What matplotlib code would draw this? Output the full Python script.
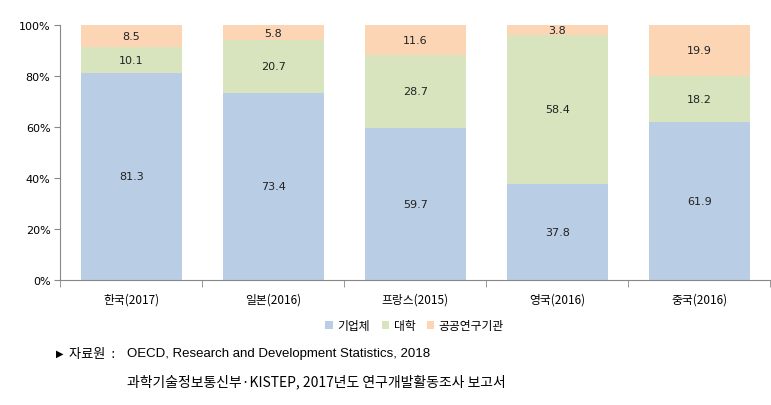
import matplotlib.pyplot as plt
import numpy as np

plt.rcParams['font.family'] = ['Noto Sans CJK KR', 'DejaVu Sans']

countries = ['한국(2017)', '일본(2016)', '프랑스(2015)', '영국(2016)', '중국(2016)']
business = [81.3, 73.4, 59.7, 37.8, 61.9]
university = [10.1, 20.7, 28.7, 58.4, 18.2]
public = [8.5, 5.8, 11.6, 3.8, 19.9]
series_names = ['기업체', '대학', '공공연구기관']
colors = ['#B9CDE5', '#D7E4BD', '#FCD5B5']

fig = plt.figure(figsize=(7.71, 4.06), dpi=100)
ax = fig.add_axes([0.078, 0.308, 0.921, 0.628])

x = np.arange(len(countries))
bottom = np.zeros(len(countries))
for vals, name, c in zip([business, university, public], series_names, colors):
    vals = np.array(vals)
    ax.bar(x, vals, width=0.71, bottom=bottom, color=c, label=name)
    for xi, b, v in zip(x, bottom, vals):
        ax.text(xi, b + v / 2, f'{v:.1f}', ha='center', va='center', fontsize=8,
                family='DejaVu Sans', color='#222222')
    bottom += vals

ax.set_xlim(-0.5, 4.5)
ax.set_ylim(0, 100)
ax.set_yticks(np.arange(0, 101, 20))
ax.set_yticklabels([f'{v}%' for v in range(0, 101, 20)], fontsize=8, family='DejaVu Sans')
ax.set_xticks(x)
ax.set_xticklabels(countries, fontsize=8.5)
ax.set_xticks(np.arange(-0.5, 5.0, 1.0), minor=True)
ax.tick_params(axis='x', which='major', length=0, pad=9)
ax.tick_params(axis='x', which='minor', length=5, color='#888888')
ax.tick_params(axis='y', length=4, color='#888888', pad=3)

for s in ['top', 'right']:
    ax.spines[s].set_visible(False)
ax.spines['left'].set_color('#888888')
ax.spines['bottom'].set_color('#888888')

fig.legend(loc='center', bbox_to_anchor=(0.538, 0.195), ncol=3, frameon=False,
           fontsize=8.5, handlelength=0.6, handleheight=0.6, handletextpad=0.4,
           columnspacing=1.0)

fig.text(0.072, 0.128, '▶', fontsize=7, va='center', family='DejaVu Sans')
fig.text(0.090, 0.128, '자료원  :', fontsize=9.5, va='center')
fig.text(0.165, 0.128, 'OECD, Research and Development Statistics, 2018', fontsize=9.5,
         va='center', family='Liberation Sans')
fig.text(0.165, 0.060, '과학기술정보통신부·KISTEP, 2017년도 연구개발활동조사 보고서', fontsize=10, va='center')

fig.savefig('out.png', dpi=100)
